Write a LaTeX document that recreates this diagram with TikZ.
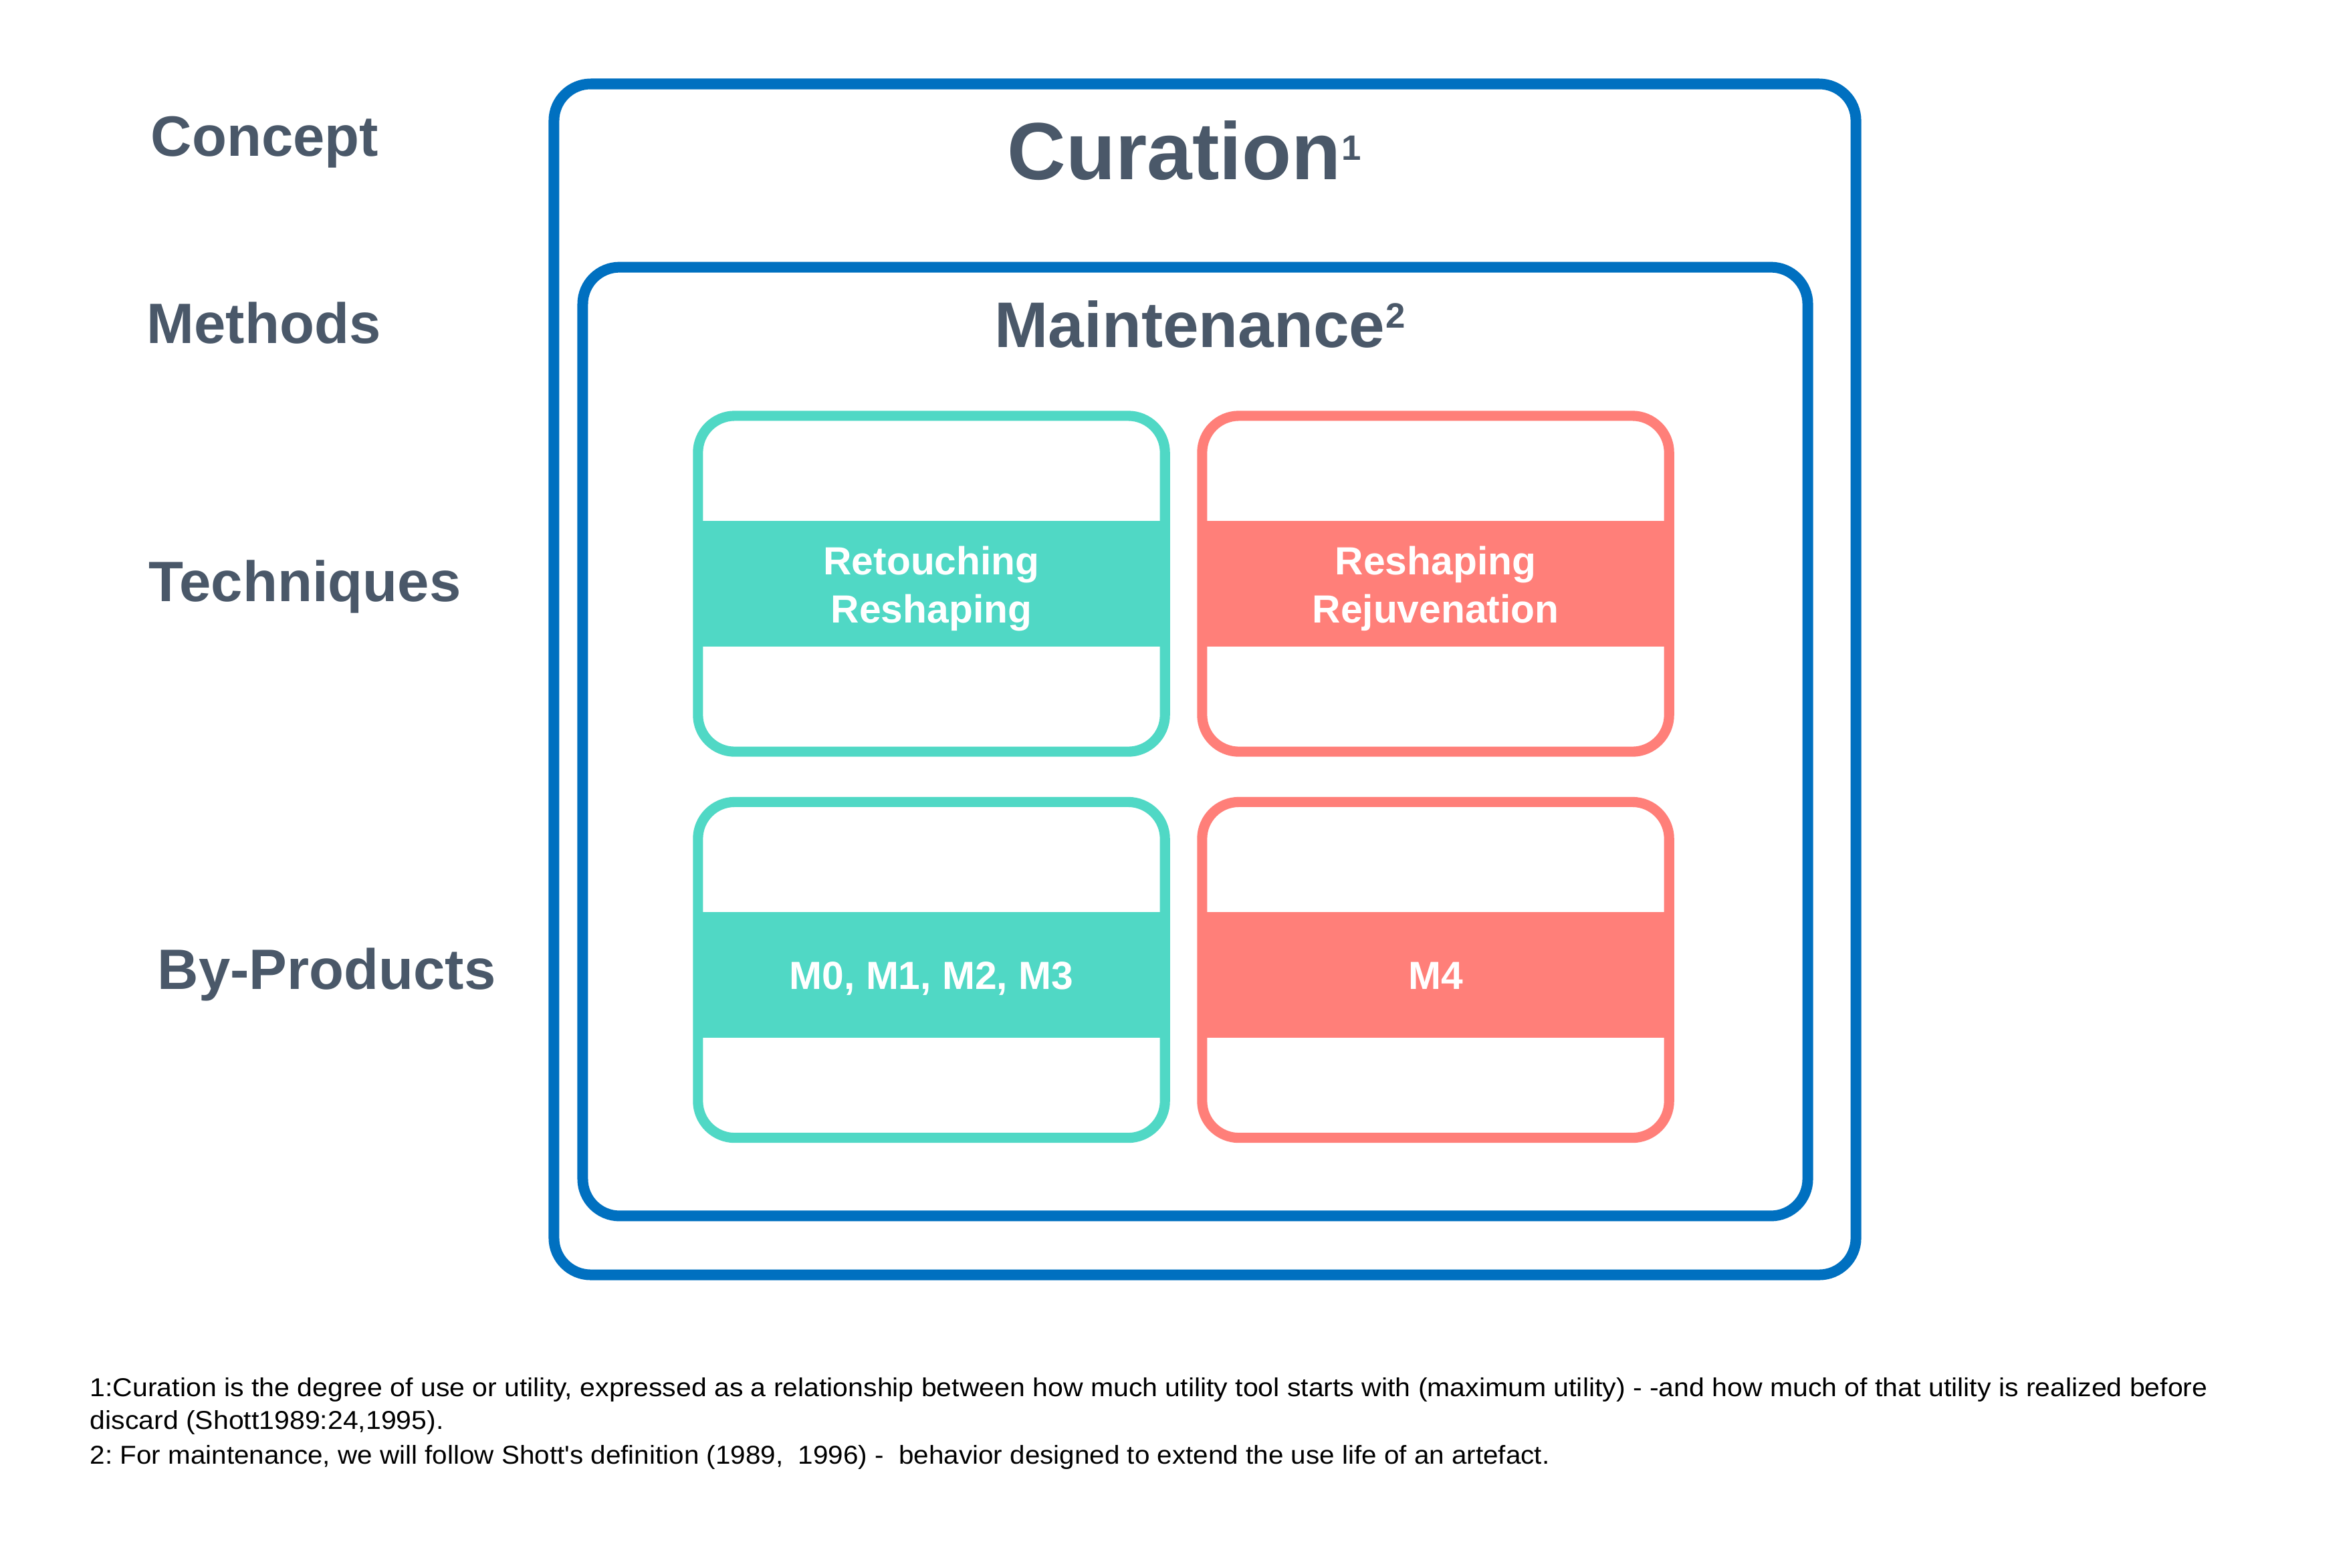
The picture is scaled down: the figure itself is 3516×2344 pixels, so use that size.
\documentclass[tikz,border=0pt]{standalone}
\usepackage{fontspec}
\setmainfont{Liberation Sans}
\frenchspacing
\definecolor{cblue}{RGB}{0,112,192}
\definecolor{cteal}{RGB}{80,216,197}
\definecolor{cred}{RGB}{255,127,121}
\definecolor{cgray}{RGB}{74,88,105}
\tikzset{
  bluebox/.style={draw=cblue, line width=4.55pt, rounded corners=0.55cm, inner sep=0pt},
  tealbox/.style={draw=cteal, line width=4.3pt, rounded corners=0.55cm, inner sep=0pt, minimum width=6.98cm, minimum height=5.02cm},
  redbox/.style={draw=cred, line width=4.3pt, rounded corners=0.55cm, inner sep=0pt, minimum width=6.98cm, minimum height=5.02cm},
  tealband/.style={fill=cteal, inner sep=0pt, minimum width=7.12cm, minimum height=1.88cm},
  redband/.style={fill=cred, inner sep=0pt, minimum width=7.12cm, minimum height=1.88cm},
  bandtext/.style={text=white, inner sep=0pt, anchor=base, font=\bfseries\fontsize{16.7pt}{20pt}\selectfont},
  rowlabel/.style={text=cgray, inner sep=0pt, anchor=base west, font=\bfseries\fontsize{24.2pt}{28pt}\selectfont},
  title/.style={text=cgray, inner sep=0pt, anchor=base west},
  supnum/.style={text=cgray, inner sep=0pt, anchor=base west, yshift=0.29cm, font=\bfseries\fontsize{15pt}{18pt}\selectfont},
  foot/.style={text=black, inner sep=0pt, anchor=base west, font=\fontsize{11pt}{13pt}\selectfont}
}
\newcommand{\footline}[2][1.06]{\scalebox{#1}[1]{#2}}
\begin{document}
\begin{tikzpicture}[x=0.01cm,y=-0.01cm]
\useasboundingbox (0,0) rectangle (3516,2344);
\fill[white] (0,0) rectangle (3516,2344);

% containers
\node[bluebox, minimum width=19.46cm, minimum height=17.8cm] (outer) at (1802,1016) {};
\node[bluebox, minimum width=18.31cm, minimum height=14.18cm] (inner) at (1787.5,1109) {};

% technique / by-product boxes
\node[tealbox] (tbox1) at (1393,873) {};
\node[redbox]  (rbox1) at (2147,873) {};
\node[tealbox] (tbox2) at (1393,1450.5) {};
\node[redbox]  (rbox2) at (2147,1450.5) {};

\node[tealband] (tband1) at (1393,873) {};
\node[redband]  (rband1) at (2147,873) {};
\node[tealband] (tband2) at (1393,1458) {};
\node[redband]  (rband2) at (2147,1458) {};

\node[bandtext] (ret) at (1393,859) {Retouching};
\node[bandtext] (resh1) at (1393,931) {Reshaping};
\node[bandtext] (resh2) at (2147,859) {Reshaping};
\node[bandtext] (rejuv) at (2147,931) {Rejuvenation};
\node[bandtext] (mlist) at (1393,1479) {M0, M1, M2, M3};
\node[bandtext] (mfour) at (2147,1479) {M4};

% titles
\node[title, font=\bfseries\fontsize{34.5pt}{40pt}\selectfont] (curation) at (1506,268) {Curation};
\node[supnum] (sup1) at (curation.base east) {1};
\node[title, font=\bfseries\fontsize{27.4pt}{32pt}\selectfont] (maint) at (1487,519) {Maintenance};
\node[supnum] (sup2) at (maint.base east) {2};

% row labels
\node[rowlabel] (concept) at (225,233) {Concept};
\node[rowlabel] (methods) at (219,513) {Methods};
\node[rowlabel] (techn) at (222,899) {Techniques};
\node[rowlabel] (byprod) at (235,1479) {By-Products};

% footnotes
\node[foot] (fn1) at (134,2088) {\footline{1:Curation is the degree of use or utility, expressed as a relationship between how much utility tool starts with (maximum utility) - -and how much of that utility is realized before}};
\node[foot] (fn1b) at (134,2137) {\footline{discard (Shott1989:24,1995).}};
\node[foot] (fn2) at (134,2189) {\footline[1.045]{2: For maintenance, we will follow Shott\textquotesingle s definition (1989,\ \ 1996) -\ \ behavior designed to extend the use life of an artefact.}};
\end{tikzpicture}
\end{document}
